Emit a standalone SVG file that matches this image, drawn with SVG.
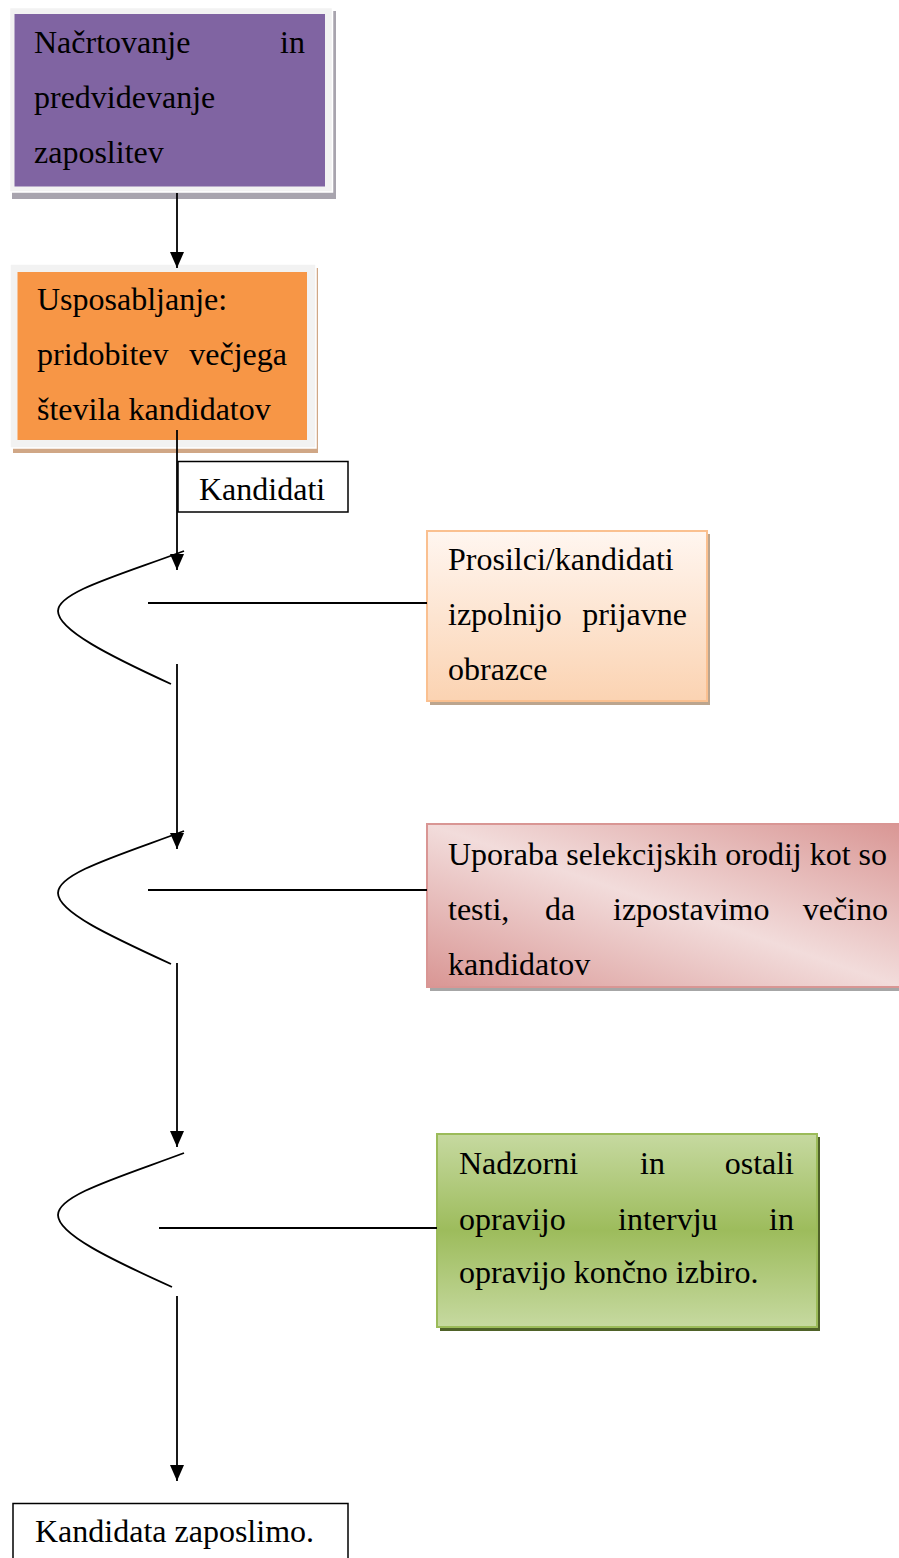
<svg xmlns="http://www.w3.org/2000/svg" width="899" height="1558" viewBox="0 0 899 1558">
  <style>
    text { font-family: "Liberation Serif", "Times New Roman", serif; font-size: 32px; fill: #000; }
    .end { text-anchor: end; }
    .wire { stroke: #000; stroke-width: 1.8; fill: none; }
    .frame { fill: #F2F2F2; stroke: #FFFFFF; stroke-width: 1.5; }
    .plain { fill: #FFFFFF; stroke: #000; stroke-width: 1.5; }
  </style>
  <defs>
    <marker id="arrow" markerUnits="userSpaceOnUse" viewBox="0 -7 16 14" refX="16" refY="0" markerWidth="16" markerHeight="14" orient="auto">
      <path d="M0,-7 L16,0 L0,7 Z" fill="#000"/>
    </marker>
    <linearGradient id="peach" x1="0" y1="0" x2="0" y2="1">
      <stop offset="0" stop-color="#FFF6F0"/>
      <stop offset="1" stop-color="#FBD3B2"/>
    </linearGradient>
    <linearGradient id="rose" x1="1" y1="0" x2="0" y2="1">
      <stop offset="0" stop-color="#D99694"/>
      <stop offset="0.5" stop-color="#F2DCDB"/>
      <stop offset="1" stop-color="#D99694"/>
    </linearGradient>
    <linearGradient id="olive" x1="0" y1="0" x2="0" y2="1">
      <stop offset="0" stop-color="#C6D9A0"/>
      <stop offset="0.5" stop-color="#9DBC5C"/>
      <stop offset="1" stop-color="#C6D9A0"/>
    </linearGradient>
  </defs>

  <!-- planning step -->
  <g id="node-planning">
    <rect x="12" y="11" width="324" height="188" fill="#A8A4AE"/>
    <rect class="frame" x="9.5" y="7.5" width="323" height="184.5"/>
    <rect x="14.5" y="14" width="310.5" height="172.5" fill="#8064A2"/>
    <text x="34" y="53">Načrtovanje</text>
    <text class="end" x="305" y="53">in</text>
    <text x="34" y="108">predvidevanje</text>
    <text x="34" y="163">zaposlitev</text>
  </g>

  <!-- recruiting step -->
  <g id="node-recruiting">
    <rect x="13" y="268" width="305" height="185" fill="#D0A786"/>
    <rect class="frame" x="10" y="264" width="306" height="184"/>
    <rect x="17.5" y="272" width="289.5" height="168" fill="#F79646"/>
    <text x="37" y="310">Usposabljanje:</text>
    <text x="37" y="365">pridobitev</text>
    <text class="end" x="287" y="365">večjega</text>
    <text x="37" y="420">števila kandidatov</text>
  </g>

  <g id="node-candidates">
    <rect class="plain" x="178" y="461.5" width="170" height="50.5"/>
    <text x="199" y="500">Kandidati</text>
  </g>

  <!-- application forms -->
  <g id="node-applications">
    <rect x="430" y="534" width="280" height="171" fill="#BCA58E"/>
    <rect x="427" y="531" width="280" height="170" fill="url(#peach)" stroke="#FAC090" stroke-width="2"/>
    <text x="448" y="570">Prosilci/kandidati</text>
    <text x="448" y="625">izpolnijo</text>
    <text class="end" x="687" y="625">prijavne</text>
    <text x="448" y="680">obrazce</text>
  </g>

  <!-- selection tools -->
  <g id="node-selection">
    <rect x="430" y="827" width="472" height="164" fill="#A6A6A6"/>
    <rect x="427" y="824" width="475" height="163" fill="url(#rose)" stroke="#D99694" stroke-width="2"/>
    <text x="448" y="865">Uporaba selekcijskih orodij kot so</text>
    <text x="448" y="920">testi,</text>
    <text x="545" y="920">da</text>
    <text x="613" y="920">izpostavimo</text>
    <text class="end" x="888" y="920">večino</text>
    <text x="448" y="975">kandidatov</text>
  </g>

  <!-- interview and final choice -->
  <g id="node-interview">
    <rect x="440" y="1137" width="380" height="194" fill="#4F6228"/>
    <rect x="437" y="1134" width="380" height="193" fill="url(#olive)" stroke="#9BBB59" stroke-width="2"/>
    <text x="459" y="1174">Nadzorni</text>
    <text x="640" y="1174">in</text>
    <text class="end" x="794" y="1174">ostali</text>
    <text x="459" y="1230">opravijo</text>
    <text x="618" y="1230">intervju</text>
    <text class="end" x="794" y="1230">in</text>
    <text x="459" y="1283">opravijo končno izbiro.</text>
  </g>

  <g id="node-hire">
    <rect class="plain" x="13" y="1503.5" width="335" height="80"/>
    <text x="35" y="1542">Kandidata zaposlimo.</text>
  </g>

  <!-- connectors -->
  <g id="connectors">
    <line class="wire" x1="177" y1="193" x2="177" y2="268" marker-end="url(#arrow)"/>
    <line class="wire" x1="177" y1="430" x2="177" y2="570" marker-end="url(#arrow)"/>

    <path class="wire" d="M184,551 C120,575 58,592 58,611 C58,630 110,656 171,684"/>
    <line class="wire" x1="148" y1="603" x2="427" y2="603"/>
    <line class="wire" x1="177" y1="664" x2="177" y2="849" marker-end="url(#arrow)"/>

    <path class="wire" d="M184,831 C120,855 58,873 58,893 C58,912 110,936 171,964"/>
    <line class="wire" x1="148" y1="890" x2="427" y2="890"/>
    <line class="wire" x1="177" y1="963" x2="177" y2="1147" marker-end="url(#arrow)"/>

    <path class="wire" d="M184,1153 C120,1177 58,1195 58,1215 C58,1234 110,1259 172,1287"/>
    <line class="wire" x1="159" y1="1228" x2="437" y2="1228"/>
    <line class="wire" x1="177" y1="1296" x2="177" y2="1481" marker-end="url(#arrow)"/>
  </g>
</svg>
